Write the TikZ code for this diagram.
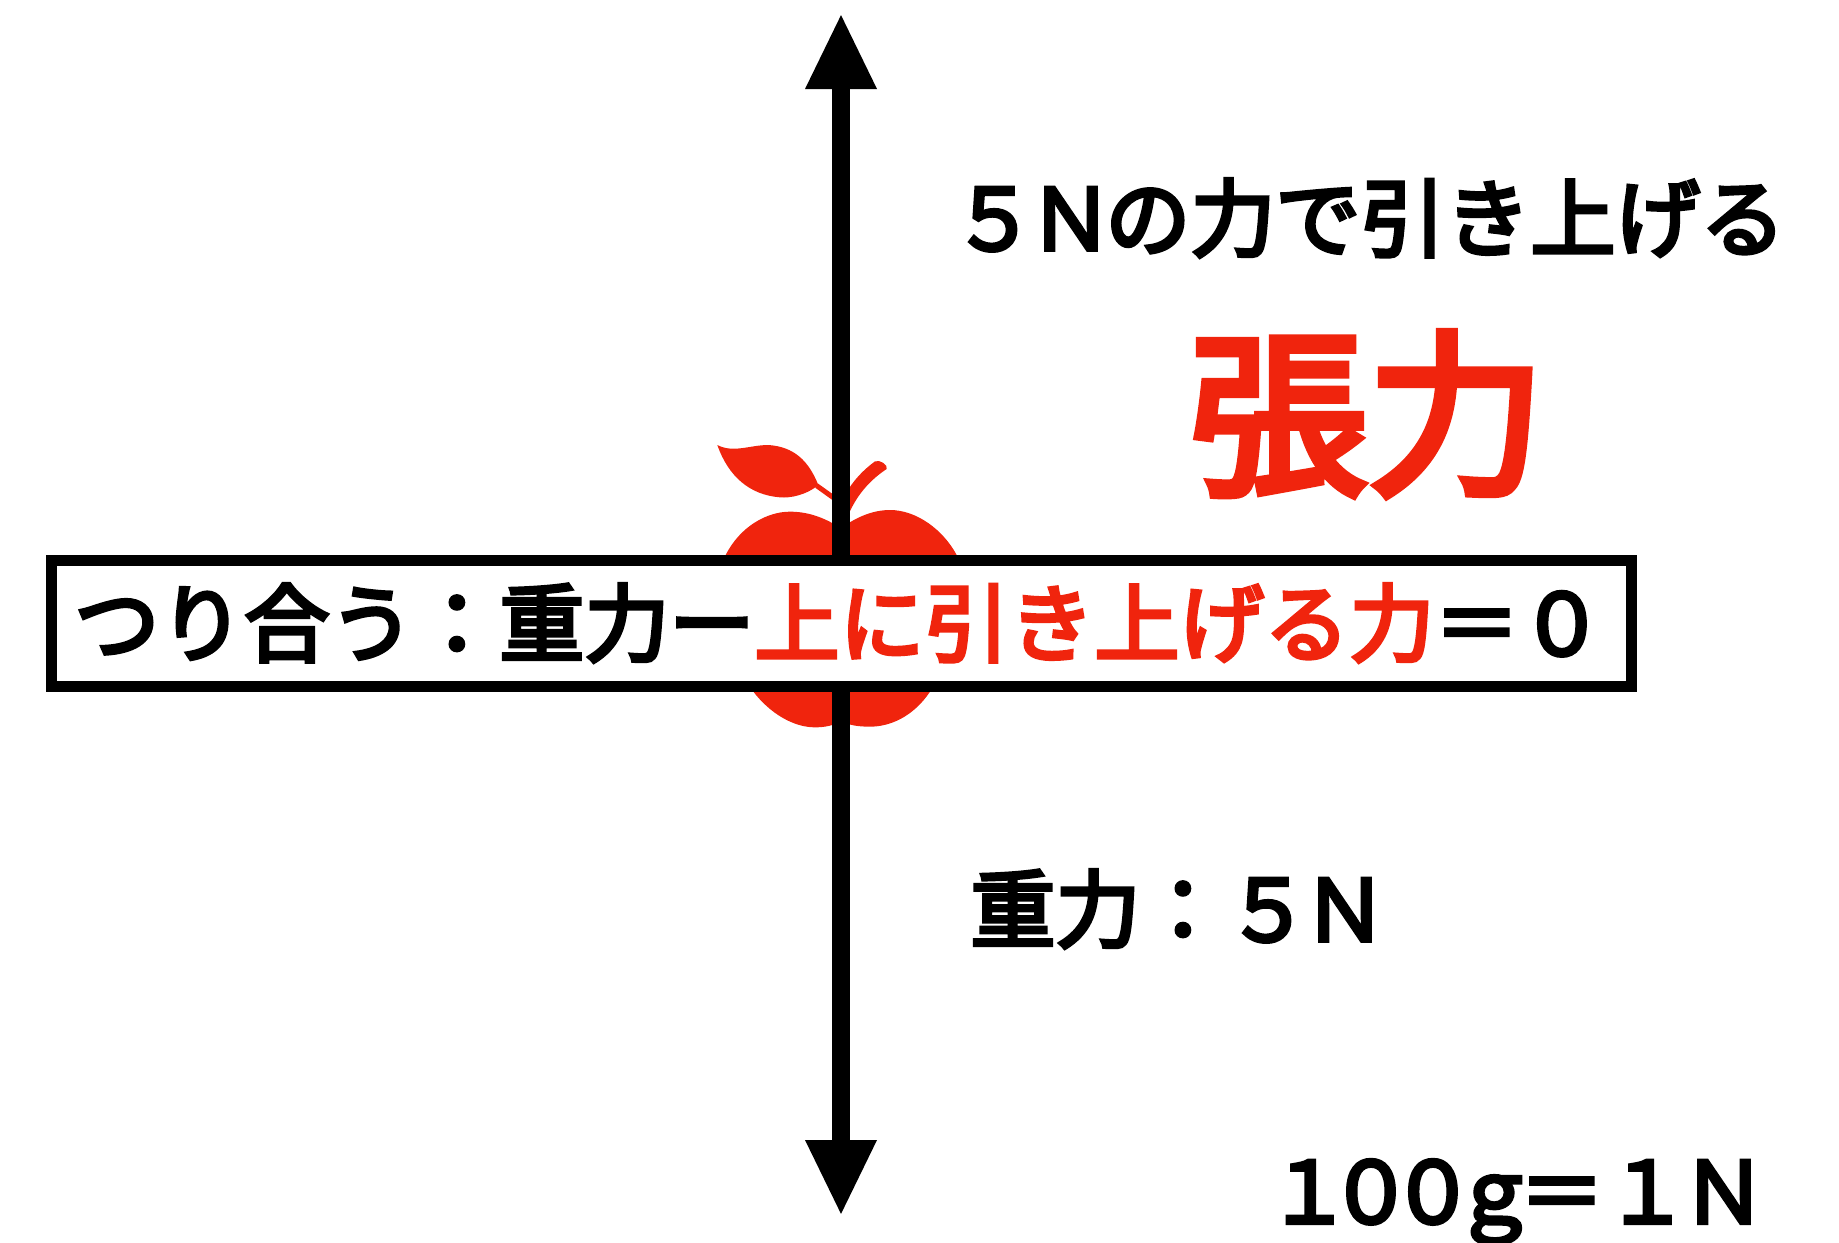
\documentclass[tikz,border=0pt]{standalone}
\usepackage{fontspec}
\setmainfont{Noto Sans CJK JP}[FakeBold=4.5]
\usepackage{tikz}
\usetikzlibrary{positioning, arrows.meta}
\definecolor{applered}{RGB}{240,36,13}
\newcommand{\nar}{\kern-4pt }
\newcommand{\tig}{\kern-11.5pt }

\begin{document}
\begin{tikzpicture}[x=0.5pt, y=-0.5pt, node distance = 10pt]
\tikzstyle{force}=[line width=9.25pt, -{Triangle[length=38pt,width=33pt]}]
\tikzstyle{big text}=[draw=none, fill=none, inner sep=0pt, font=\fontsize{42.5}{50}\selectfont]
\tikzstyle{huge text}=[big text, text=applered, font=\fontsize{89}{100}\selectfont]
\useasboundingbox (0,0) rectangle (1839,1242);

% apple, in crop units
\begin{scope}[shift={(680,420)}, xscale=1/3, yscale=1/3, fill=applered]
\fill (112,75) .. controls (160,100) and (210,75) .. (265,75) .. controls (340,80) and (385,120) .. (415,195) .. controls (380,225) and (330,235) .. (300,232) .. controls (210,225) and (145,170) .. (112,75) -- cycle;
\draw[applered, line width=2.5pt] (410,197) -- (470,240);
\fill (495,225) .. controls (520,180) and (550,150) .. (585,124) .. controls (600,118) and (625,135) .. (620,147) .. controls (570,180) and (530,225) .. (505,285) -- cycle;
\fill (137,405) .. controls (180,320) and (260,275) .. (330,275) .. controls (380,275) and (430,290) .. (483,325) .. controls (530,290) and (580,270) .. (630,270) .. controls (710,270) and (790,330) .. (830,405) -- (750,815) .. controls (700,890) and (630,920) .. (570,920) .. controls (530,920) and (510,915) .. (483,905) .. controls (460,915) and (440,922) .. (405,922) .. controls (340,922) and (270,880) .. (220,815) -- cycle;
\end{scope}

\node[draw, fill=white, rectangle, line width=5.5pt, minimum width=790pt, minimum height=63.25pt, inner sep=0pt] (balance) at (841,623.25) {};
\node[big text, anchor=west] (balancetext) at (74,623) {つり合う：重力ー\textcolor{applered}{上に引き上げる力}＝０};

\coordinate (uptip) at (841,13);
\coordinate (downtip) at (841,1216);
\draw[force] (balance.north) -- (uptip);
\draw[force] (balance.south) -- (downtip);

\node[big text, anchor=west] (pulltext) at (951,218) {５\nar Ｎ\nar の力で引き上げる};
\node[huge text, anchor=center] (tension) at (1367,414) {張力};
\node[big text, anchor=west] (weight) at (970,909) {重力：５\nar Ｎ};
\node[big text, anchor=west] (scale) at (1266,1202) {１\tig ０\tig ０\tig ｇ\kern-9pt ＝\kern0pt １\nar Ｎ};

\end{tikzpicture}
\end{document}
